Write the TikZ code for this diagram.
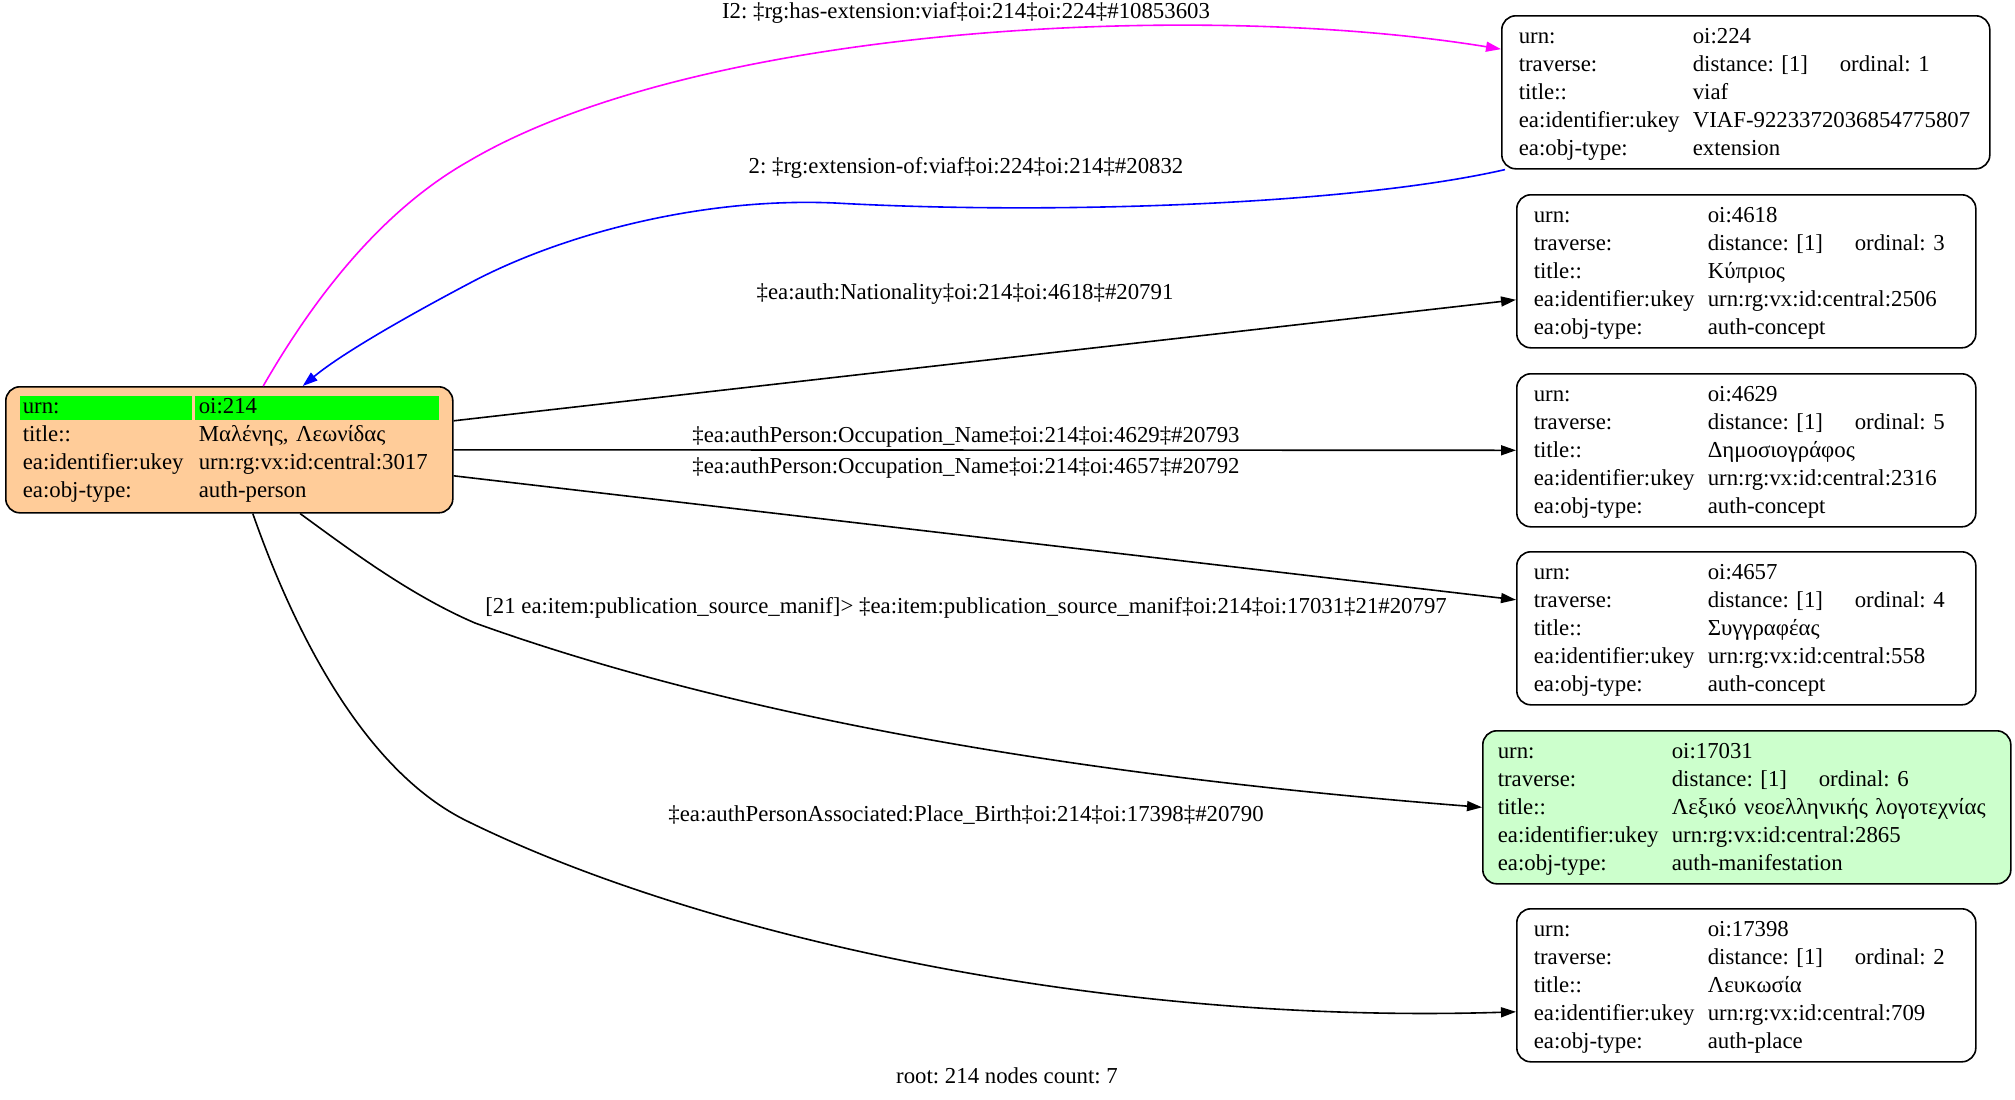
\documentclass[tikz,border=0pt]{standalone}
\usepackage{fontspec}
\setmainfont{Liberation Serif}
\usepackage{tikz}
\usetikzlibrary{arrows.meta}
\definecolor{personfill}{RGB}{255,204,153}
\definecolor{manifill}{RGB}{204,255,204}
\definecolor{hlgreen}{RGB}{0,255,0}
\definecolor{extmagenta}{RGB}{255,0,255}
\definecolor{extblue}{RGB}{0,0,255}
\tikzstyle{arrow} = [line width=0.8pt,-{Triangle[length=7.5pt,width=5pt]}]
\tikzstyle{recbox} = [draw, line width=0.8pt, rounded corners=7pt, anchor=north west, minimum height=76.5pt, inner xsep=8.5pt, inner ysep=0pt, align=left, font=\fontsize{11.4}{14}\selectfont\frenchspacing]
\tikzstyle{lbl} = [inner sep=0pt, font=\fontsize{11.4}{14}\selectfont\frenchspacing]
% one record of the result set
\newcommand{\objtab}[5]{\begin{tabular}{@{}p{87pt}@{}l@{}}
urn: & #1\\
traverse: & \makebox[73.5pt][l]{distance: [1]}ordinal: #2\\
title:: & #3\\
ea:identifier:ukey & #4\\
ea:obj-type: & #5\\[-2pt]
\end{tabular}}
\newcommand{\hlcell}[2]{{\setlength{\fboxsep}{0pt}\colorbox{hlgreen}{\rule[-3.2pt]{0pt}{12pt}\makebox[#1][l]{#2}}}}

\begin{document}
\frenchspacing
\begin{tikzpicture}[x=0.5pt, y=-0.5pt]
	\useasboundingbox (0,0) rectangle (2015,1099);
	% root
	\node[recbox, fill=personfill, minimum height=63pt, inner xsep=7pt, text width=209.5pt] (root) at (5,386) {\begin{tabular}{@{}p{87.5pt}@{}l@{}}
		\hlcell{86pt}{\hspace*{1.5pt}urn:} & \hlcell{122pt}{\hspace*{2pt}oi:214}\\
		\hspace*{1.5pt}title:: & \hspace*{2pt}Μαλένης, Λεωνίδας\\
		\hspace*{1.5pt}ea:identifier:ukey & \hspace*{2pt}urn:rg:vx:id:central:3017\\
		\hspace*{1.5pt}ea:obj-type: & \hspace*{2pt}auth-person
	\end{tabular}};
	% targets
	\node[recbox, text width=227pt] (n224) at (1501,15) {\objtab{oi:224}{1}{viaf}{VIAF-9223372036854775807}{extension}};
	\node[recbox, text width=212.5pt] (n4618) at (1516,194) {\objtab{oi:4618}{3}{Κύπριος}{urn:rg:vx:id:central:2506}{auth-concept}};
	\node[recbox, text width=212.5pt] (n4629) at (1516,373) {\objtab{oi:4629}{5}{Δημοσιογράφος}{urn:rg:vx:id:central:2316}{auth-concept}};
	\node[recbox, text width=212.5pt] (n4657) at (1516,551) {\objtab{oi:4657}{4}{Συγγραφέας}{urn:rg:vx:id:central:558}{auth-concept}};
	\node[recbox, fill=manifill, inner xsep=7.5pt, text width=249pt] (n17031) at (1482,730) {\objtab{oi:17031}{6}{Λεξικό νεοελληνικής λογοτεχνίας}{urn:rg:vx:id:central:2865}{auth-manifestation}};
	\node[recbox, text width=212.5pt] (n17398) at (1516,908) {\objtab{oi:17398}{2}{Λευκωσία}{urn:rg:vx:id:central:709}{auth-place}};
	% edges
	\draw[arrow, extmagenta] (root.62) .. controls (330,270) and (400,200) .. (469,161) .. controls (700,25) and (1200,0) .. (n224.170);
	\draw[arrow, extblue] ([xshift=2pt]n224.south west) .. controls (1350,205) and (1050,215) .. (835,203) .. controls (700,197) and (560,235) .. (470,283) .. controls (400,320) and (340,355) .. (root.41);
	\draw[arrow] ([yshift=14.5pt]root.east) -- ([yshift=-14.25pt]n4618.west);
	\draw[arrow] (root.east) -- (n4629.west);
	\draw[arrow] ([yshift=-13pt]root.east) -- ([yshift=14.25pt]n4657.west);
	\draw[arrow] (root.-42) .. controls (350,550) and (410,595) .. (475,623) .. controls (800,740) and (1200,785) .. (n17031.west);
	\draw[arrow] ([xshift=11.75pt]root.south) .. controls (290,620) and (360,770) .. (469,822) .. controls (700,935) and (1100,1025) .. ([yshift=-13.25pt]n17398.west);
	% edge labels
	\node[lbl] (l224) at (966,13) {I2: ‡rg:has-extension:viaf‡oi:214‡oi:224‡\#10853603};
	\node[lbl] (lext) at (966,168) {2: ‡rg:extension-of:viaf‡oi:224‡oi:214‡\#20832};
	\node[lbl] (l4618) at (965,294) {‡ea:auth:Nationality‡oi:214‡oi:4618‡\#20791};
	\node[lbl] (l4629) at (966,437) {‡ea:authPerson:Occupation\_Name‡oi:214‡oi:4629‡\#20793};
	\node[lbl] (l4657) at (966,468) {‡ea:authPerson:Occupation\_Name‡oi:214‡oi:4657‡\#20792};
	\node[lbl] (l17031) at (966,608) {[21 ea:item:publication\_source\_manif]> ‡ea:item:publication\_source\_manif‡oi:214‡oi:17031‡21\#20797};
	\node[lbl] (l17398) at (966,815) {‡ea:authPersonAssociated:Place\_Birth‡oi:214‡oi:17398‡\#20790};
	\node[lbl] (footer) at (1007,1076) {root: 214 nodes count: 7};
\end{tikzpicture}
\end{document}
